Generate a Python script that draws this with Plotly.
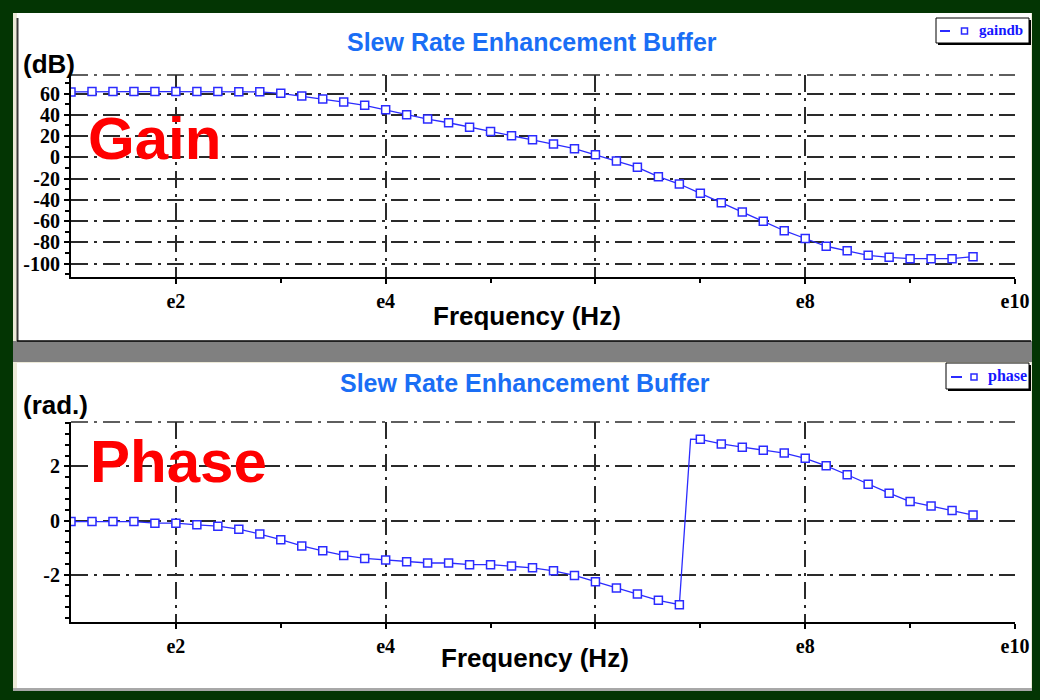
import plotly.graph_objects as go

# ---------------- data ----------------
log_freq = [1.0, 1.2, 1.4, 1.6, 1.8, 2.0, 2.2, 2.4, 2.6, 2.8,
            3.0, 3.2, 3.4, 3.6, 3.8, 4.0, 4.2, 4.4, 4.6, 4.8,
            5.0, 5.2, 5.4, 5.6, 5.8, 6.0, 6.2, 6.4, 6.6, 6.8,
            7.0, 7.2, 7.4, 7.6, 7.8, 8.0, 8.2, 8.4, 8.6, 8.8,
            9.0, 9.2, 9.4, 9.6]

gain_db = [61.5, 61.8, 61.8, 61.8, 61.8, 61.8, 61.8, 61.8, 61.7, 61.6,
           60.2, 57.6, 54.8, 52.0, 48.9, 44.7, 40.0, 36.0, 32.5, 28.2,
           24.4, 20.3, 16.5, 12.5, 8.1, 2.4, -3.5, -9.4, -18.2, -25.1,
           -33.8, -42.7, -51.4, -60.2, -69.0, -76.3, -83.6, -87.9, -92.1, -94.0,
           -95.3, -95.3, -95.3, -93.4]

phase_rad = [-0.04, -0.04, -0.04, -0.04, -0.10, -0.10, -0.16, -0.21, -0.32, -0.50,
             -0.71, -0.94, -1.12, -1.29, -1.40, -1.46, -1.52, -1.57, -1.57, -1.63,
             -1.63, -1.68, -1.75, -1.86, -2.03, -2.26, -2.49, -2.72, -2.95, -3.11,
             3.00, 2.83, 2.71, 2.60, 2.49, 2.30, 2.02, 1.69, 1.34, 1.01,
             0.70, 0.54, 0.37, 0.20]

# phase wrap corner (line only, no marker)
wrap_log_freq = 6.907
wrap_phase = 3.01

x_tick_vals = [1e2, 1e4, 1e6, 1e8, 1e10]
x_tick_text = ["e2", "e4", "", "e8", "e10"]
x_minor_vals = [1e3, 1e5, 1e7, 1e9]
gain_ticks = [-100, -80, -60, -40, -20, 0, 20, 40, 60]
gain_tick_text = ["-100", "-80", "-60", "-40", "-20", "0", "20", "40", "60"]
phase_ticks = [-2, 0, 2]
phase_tick_text = ["-2", "0", "2"]

title_text = "Slew Rate Enhancement Buffer"

# ---------------- helpers ----------------
W, H = 1040, 700
def X(p):
    return p / W
def Y(p):
    return 1 - p / H

freq = [10 ** v for v in log_freq]
line_pairs = sorted(list(zip(log_freq, phase_rad)) + [(wrap_log_freq, wrap_phase)])
phase_line_x = [10 ** a for a, b in line_pairs]
phase_line_y = [b for a, b in line_pairs]

BLUE = "#2b2bff"
GRID = "#2a2a2a"
DASH = "17px,6px,3px,6px"
SERIF = "Liberation Serif, Times New Roman, serif"
SANS = "Liberation Sans, Arial, sans-serif"

fig = go.Figure()

fig.add_trace(go.Scatter(
    x=freq, y=gain_db, mode="lines+markers", xaxis="x", yaxis="y",
    line=dict(color=BLUE, width=1.3),
    marker=dict(symbol="square", size=8, color="white", line=dict(color=BLUE, width=1.5)),
    showlegend=False, cliponaxis=True))

fig.add_trace(go.Scatter(
    x=phase_line_x, y=phase_line_y, mode="lines", xaxis="x2", yaxis="y2",
    line=dict(color=BLUE, width=1.3), showlegend=False))
fig.add_trace(go.Scatter(
    x=freq, y=phase_rad, mode="markers", xaxis="x2", yaxis="y2",
    marker=dict(symbol="square", size=8, color="white", line=dict(color=BLUE, width=1.5)),
    showlegend=False))

xdom = [X(71), X(1015)]

def xaxis_cfg(anchor):
    return dict(
        type="log", range=[1, 10], domain=xdom, anchor=anchor, automargin=False,
        tickmode="array", tickvals=x_tick_vals, ticktext=x_tick_text,
        ticks="outside", ticklen=5, tickwidth=1.5, tickcolor="black",
        showline=True, linecolor="black", linewidth=2,
        showgrid=True, gridcolor=GRID, gridwidth=1.5, griddash=DASH,
        zeroline=False,
        tickfont=dict(family=SERIF, size=20, color="black", weight="bold"),
        minor=dict(tickmode="array", tickvals=x_minor_vals, ticks="outside",
                   ticklen=4, tickwidth=1.5, tickcolor="black", showgrid=False),
    )

def yaxis_cfg(anchor, rng, dom, tickvals, ticktext, minor_dtick):
    return dict(
        range=rng, domain=dom, anchor=anchor, automargin=False,
        tickmode="array", tickvals=tickvals, ticktext=ticktext,
        ticks="outside", ticklen=5, tickwidth=1.5, tickcolor="black",
        showline=True, linecolor="black", linewidth=2,
        showgrid=True, gridcolor=GRID, gridwidth=1.5, griddash=DASH,
        zeroline=False,
        tickfont=dict(family=SERIF, size=20, color="black", weight="bold"),
        minor=dict(tickmode="linear", tick0=0, dtick=minor_dtick, ticks="outside",
                   ticklen=4, tickwidth=1.5, tickcolor="black", showgrid=False),
    )

shapes = []
def rect(x0, y0, x1, y1, fill, line_color=None, lw=0, layer="below"):
    shapes.append(dict(type="rect", xref="paper", yref="paper",
                       x0=X(x0), x1=X(x1), y0=Y(y0), y1=Y(y1),
                       fillcolor=fill, layer=layer,
                       line=dict(color=line_color or fill, width=lw)))
def hline(x0, x1, y, color, w, dash=None, layer="below"):
    shapes.append(dict(type="line", xref="paper", yref="paper",
                       x0=X(x0), x1=X(x1), y0=Y(y), y1=Y(y), layer=layer,
                       line=dict(color=color, width=w, dash=dash)))
def vline(x, y0, y1, color, w, layer="below"):
    shapes.append(dict(type="line", xref="paper", yref="paper",
                       x0=X(x), x1=X(x), y0=Y(y0), y1=Y(y1), layer=layer,
                       line=dict(color=color, width=w)))

# panels
rect(13, 13, 1032, 691, "#ECE9D8")
rect(17, 13, 1031, 341, "white")
vline(17.5, 18, 341, "#3a3a3a", 2)
rect(13, 341, 1032, 362, "#808080")
hline(17, 1031, 341, "black", 1.5)
rect(17, 363, 1031, 688, "white")
rect(13, 688, 1032, 691, "#a8a8a8")

# top dash-dot borders of plot areas
hline(71, 1015, 75, GRID, 1.5, DASH, layer="above")
hline(71, 1015, 422, GRID, 1.5, DASH, layer="above")

# legend boxes
def legend_box(x0, y0, x1, y1, lx0, lx1, sq_x, ly):
    rect(x0 + 2, y0 + 2, x1 + 2, y1 + 2, "black", layer="above")
    rect(x0, y0, x1, y1, "white", "black", 1, layer="above")
    hline(lx0, lx1, ly, BLUE, 2, layer="above")
    rect(sq_x - 3, ly - 3, sq_x + 3, ly + 3, "white", BLUE, 1.5, layer="above")

legend_box(936, 18, 1029, 43, 940, 950, 964.5, 31)
legend_box(946, 363, 1029, 389, 951, 962, 974, 377)

annotations = []
def text(x, y, s, size, color, family=SANS, xanchor="center", bold=True):
    annotations.append(dict(xref="paper", yref="paper", x=X(x), y=Y(y),
                            text=f"<b>{s}</b>" if bold else s, showarrow=False,
                            xanchor=xanchor, yanchor="middle",
                            font=dict(family=family, size=size, color=color)))

TITLE_BLUE = "#1a6ef5"
text(532, 42, title_text, 25, TITLE_BLUE)
text(21, 64, "(dB)", 26, "black", xanchor="left")
text(86, 138, "Gain", 60, "#ff0000", xanchor="left")
text(527, 316, "Frequency (Hz)", 26, "black")

text(525, 383, title_text, 25, TITLE_BLUE)
text(21, 405, "(rad.)", 26, "black", xanchor="left")
text(88, 461, "Phase", 60, "#ff0000", xanchor="left")
text(535, 658, "Frequency (Hz)", 26, "black")

text(977, 30, "gaindb", 15, "#1515ff", family=SERIF, xanchor="left")
text(986, 376, "phase", 16, "#1515ff", family=SERIF, xanchor="left")

fig.update_layout(
    width=W, height=H, autosize=False,
    margin=dict(l=0, r=0, t=0, b=0, pad=0, autoexpand=False),
    paper_bgcolor="#033503",
    plot_bgcolor="white",
    showlegend=False,
    xaxis=xaxis_cfg("y"),
    yaxis=yaxis_cfg("x", [-112.5, 77.4], [Y(277), Y(75)], gain_ticks, gain_tick_text, 10),
    xaxis2=xaxis_cfg("y2"),
    yaxis2=yaxis_cfg("x2", [-3.75, 3.64], [Y(622), Y(422)], phase_ticks, phase_tick_text, 0.4),
    shapes=shapes,
    annotations=annotations,
)

fig.write_html(
    "out.html",
    config={"responsive": False, "displayModeBar": False},
    post_script="document.body.style.margin='0';document.body.style.overflow='hidden';",
)
